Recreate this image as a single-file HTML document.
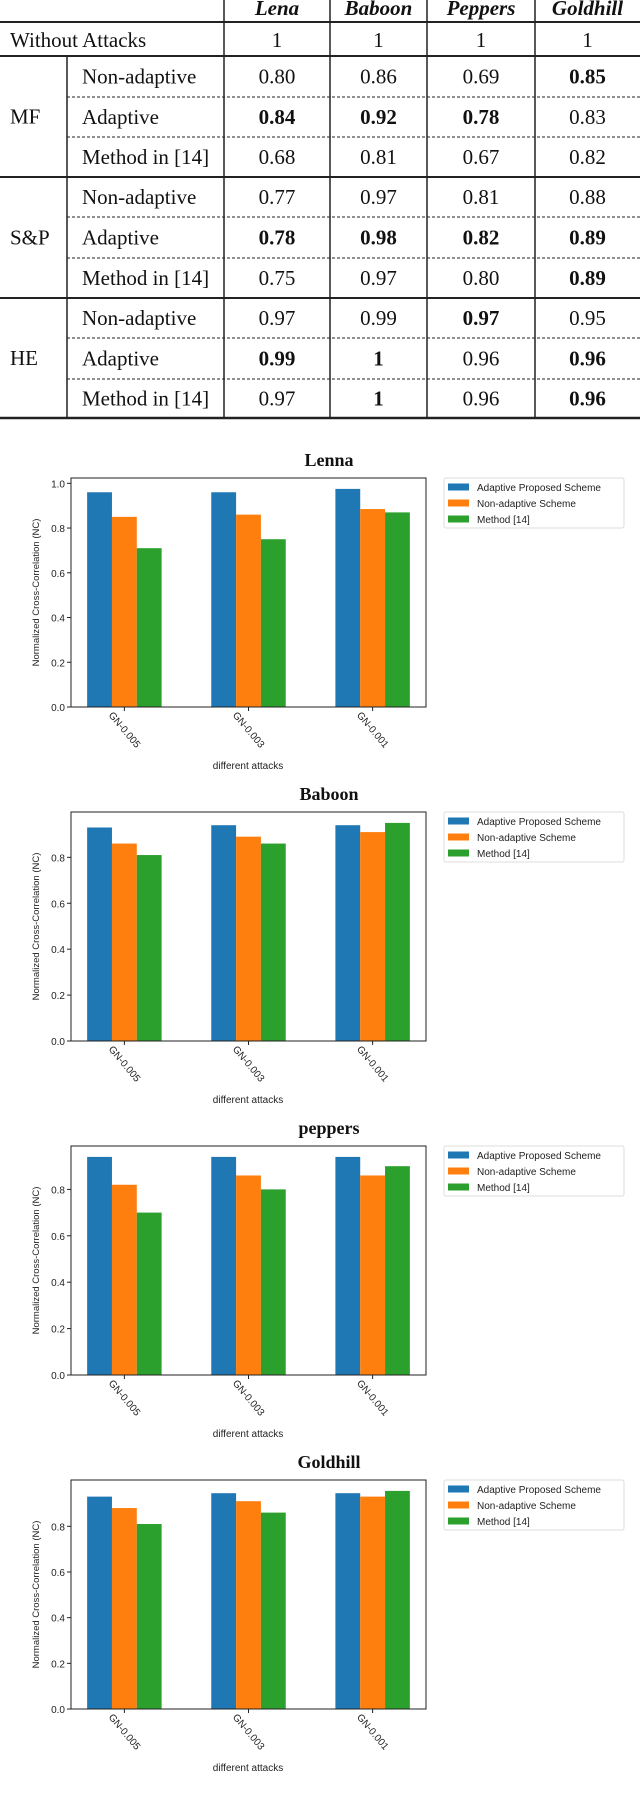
<!DOCTYPE html>
<html><head><meta charset="utf-8"><style>
html,body{margin:0;padding:0;background:#fff;width:640px;height:1799px;overflow:hidden}
svg{display:block}
.t{font-family:"Liberation Serif",serif;font-size:21px;fill:#111}
.b{font-weight:bold}
.s{font-family:"Liberation Sans",sans-serif;fill:#222}
</style></head><body>
<svg id="page" width="640" height="1799" viewBox="0 0 640 1799" xmlns="http://www.w3.org/2000/svg">
<g id="table"></g>
<g id="charts"></g>
<text x="60" y="1814" font-family="Liberation Serif,serif" font-size="21" fill="#777">Fig. 4. Normalized cross-correlation (NC) results of attacks [14] b</text>
</svg>
<script>
// ---------- table data ----------
const imageNames = ["Lena","Baboon","Peppers","Goldhill"];
const attackGroups = ["MF","S&P","HE"];
const methodNames = ["Non-adaptive","Adaptive","Method in [14]"];
const tableValues = [
 ["0.80","0.86","0.69","0.85"],["0.84","0.92","0.78","0.83"],["0.68","0.81","0.67","0.82"],
 ["0.77","0.97","0.81","0.88"],["0.78","0.98","0.82","0.89"],["0.75","0.97","0.80","0.89"],
 ["0.97","0.99","0.97","0.95"],["0.99","1","0.96","0.96"],["0.97","1","0.96","0.96"]];
const boldCells = [[0,3],[1,0],[1,1],[1,2],[4,0],[4,1],[4,2],[4,3],[5,3],[6,2],[7,0],[7,1],[7,3],[8,1],[8,3]];

// ---------- chart data ----------
const chartTitles = ["Lenna","Baboon","peppers","Goldhill"];
const attackLabels = ["GN-0.005","GN-0.003","GN-0.001"];
const seriesNames = ["Adaptive Proposed Scheme","Non-adaptive Scheme","Method [14]"];
const adaptiveValues = [[0.96,0.96,0.975],[0.93,0.94,0.94],[0.94,0.94,0.94],[0.93,0.945,0.945]];
const nonAdaptiveValues = [[0.85,0.86,0.885],[0.86,0.89,0.91],[0.82,0.86,0.86],[0.88,0.91,0.93]];
const method14Values = [[0.71,0.75,0.87],[0.81,0.86,0.95],[0.70,0.80,0.90],[0.81,0.86,0.955]];

const NS="http://www.w3.org/2000/svg";
function mk(tag,attrs,parent,text){const e=document.createElementNS(NS,tag);for(const k in attrs)e.setAttribute(k,attrs[k]);if(text!==undefined)e.textContent=text;parent.appendChild(e);return e;}

// ---- table ----
const T=document.getElementById('table');
const colX=[0,67,224,330,427,535,640];
const rowY=[22,56,97,137,177,217,258,298,338,379,418];
function line(x1,y1,x2,y2,w,dash){const l=mk('line',{x1,y1,x2,y2,stroke:'#222','stroke-width':w},T);if(dash)l.setAttribute('stroke-dasharray','3,2');return l;}
let hdr=mk('text',{x:145,y:-7,'text-anchor':'middle',class:'t b'},T,'Attack Types');

imageNames.forEach((n,i)=>{const t=mk('text',{x:(colX[i+2]+colX[i+3])/2,y:15,'text-anchor':'middle',class:'t','font-style':'italic','font-weight':'bold'},T,n);
 });
let wa=mk('text',{x:10,y:47,class:'t'},T,'Without Attacks');

for(let i=0;i<4;i++){const t=mk('text',{x:(colX[i+2]+colX[i+3])/2,y:47,'text-anchor':'middle',class:'t'},T,'1');
 }
attackGroups.forEach((g,gi)=>{const y=(rowY[1+gi*3]+rowY[4+gi*3])/2;
 const t=mk('text',{x:10,y:y+7,class:'t'},T,g);
 methodNames.forEach((m,mi)=>{const r=gi*3+mi;const cy=(rowY[1+r]+rowY[2+r])/2+7;
  const mt=mk('text',{x:82,y:cy,class:'t'},T,m);
  tableValues[r].forEach((v,ci)=>{const isB=boldCells.some(b=>b[0]===r&&b[1]===ci);
   const vt=mk('text',{x:(colX[ci+2]+colX[ci+3])/2,y:cy,'text-anchor':'middle',class:'t'+(isB?' b':'')},T,v);
   });});});
line(0,rowY[0],640,rowY[0],2);line(0,rowY[1],640,rowY[1],2);
[4,7].forEach(i=>line(0,rowY[i],640,rowY[i],2));line(0,rowY[10],640,rowY[10],2.5);
[2,3,5,6,8,9].forEach(i=>line(67,rowY[i],640,rowY[i],1,true));
line(67,rowY[1],67,rowY[10],1.5);
[224,330,427,535].forEach(x=>line(x,0,x,rowY[10],1.5));

// ---- charts ----
const C=document.getElementById('charts');
const colors=["#1f77b4","#ff7f0e","#2ca02c"];
const axL=71,axR=426,xmin=-0.43,xmax=2.43;
function xs(v){return axL+(v-xmin)/(xmax-xmin)*(axR-axL);}
chartTitles.forEach((title,ci)=>{
 const ty=460+ci*334, top=ty+18, bot=ty+247;
 const g=mk('g',{},C);
 const series=[adaptiveValues[ci],nonAdaptiveValues[ci],method14Values[ci]];
 const ymax=1.05*Math.max(...series.flat());
 const ys=v=>bot-v/ymax*(bot-top);
 const tt=mk('text',{x:329,y:ty+6,'text-anchor':'middle','font-family':'Liberation Serif,serif','font-size':18,'font-weight':'bold',fill:'#111'},g,title);
 
 series.forEach((vals,si)=>vals.forEach((v,ai)=>{const cx=xs(ai+(si-1)*0.2);const w=xs(0.2)-xs(0);
  const r=mk('rect',{x:cx-w/2,y:ys(v),width:w,height:bot-ys(v),fill:colors[si]},g);
  }));
 const fr=mk('rect',{x:axL,y:top,width:axR-axL,height:bot-top,fill:'none',stroke:'#222','stroke-width':1},g);
 
 for(let k=0;k<=5;k++){const v=k*0.2;if(v>ymax-0.01)break;const y=ys(v);
  mk('line',{x1:axL-4,y1:y,x2:axL,y2:y,stroke:'#222'},g);
  const t=mk('text',{x:axL-6,y:y+4,'text-anchor':'end',class:'s','font-size':10},g,v.toFixed(1));
  }
 attackLabels.forEach((a,ai)=>{const x=xs(ai);mk('line',{x1:x,y1:bot,x2:x,y2:bot+4,stroke:'#222'},g);
  const t=mk('text',{x:x,y:bot+26,'text-anchor':'middle',class:'s','font-size':10,transform:`rotate(50 ${x} ${bot+23})`},g,a);
  });
 const xl=mk('text',{x:248,y:bot+62,'text-anchor':'middle',class:'s','font-size':10},g,'different attacks');
 
 const yc=(top+bot)/2;
 const yl=mk('text',{x:36,y:yc+3,'text-anchor':'middle',class:'s','font-size':9.5,transform:`rotate(-90 36 ${yc})`},g,'Normalized Cross-Correlation (NC)');
 
 const lg=mk('g',{},g);
 mk('rect',{x:444,y:top,width:180,height:50,fill:'#fff',stroke:'#ddd',rx:2},lg);
 seriesNames.forEach((n,si)=>{const y=top+9+si*16;
  mk('rect',{x:448,y:y-3.5,width:21,height:7,fill:colors[si]},lg);
  const t=mk('text',{x:477,y:y+4,class:'s','font-size':10},lg,n);
  });
});
</script>
</body></html>
